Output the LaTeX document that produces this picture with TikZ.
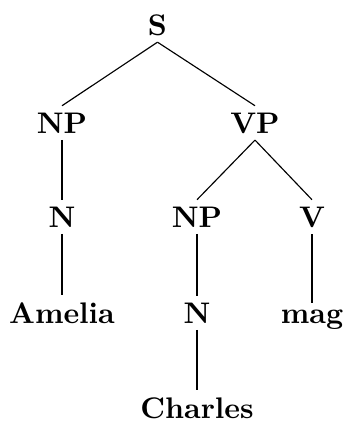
\documentclass[tikz,border=0pt]{standalone}
\begin{document}
\begin{tikzpicture}[x=0.3509pt,y=-0.3509pt,
  lbl/.style={anchor=base,inner sep=2.2pt,font=\fontsize{10.45}{12}\selectfont\bfseries},
  edge/.style={draw=black,line width=0.4pt}]
\useasboundingbox (0,0) rectangle (344,422);
\node[lbl] (S) at (157.5,35) {S};
\node[lbl] (NPa) at (62,133) {NP};
\node[lbl] (VP) at (255,133) {VP};
\node[lbl] (Na) at (62,227) {N};
\node[lbl] (NPb) at (197,227) {NP};
\node[lbl] (V) at (312,227) {V};
\node[lbl] (Amelia) at (62,323) {Amelia};
\node[lbl] (Nb) at (197,323) {N};
\node[lbl] (mag) at (312,323) {mag};
\node[lbl] (Charles) at (197,418) {Charles};
\draw[edge] (S.south) -- (NPa.north);
\draw[edge] (S.south) -- (VP.north);
\draw[edge] (NPa.south) -- (Na.north);
\draw[edge] (Na.south) -- (Amelia.north);
\draw[edge] (VP.south) -- (NPb.north);
\draw[edge] (VP.south) -- (V.north);
\draw[edge] (NPb.south) -- (Nb.north);
\draw[edge] (V.south) -- (mag.north);
\draw[edge] (Nb.south) -- (Charles.north);
\end{tikzpicture}
\end{document}
